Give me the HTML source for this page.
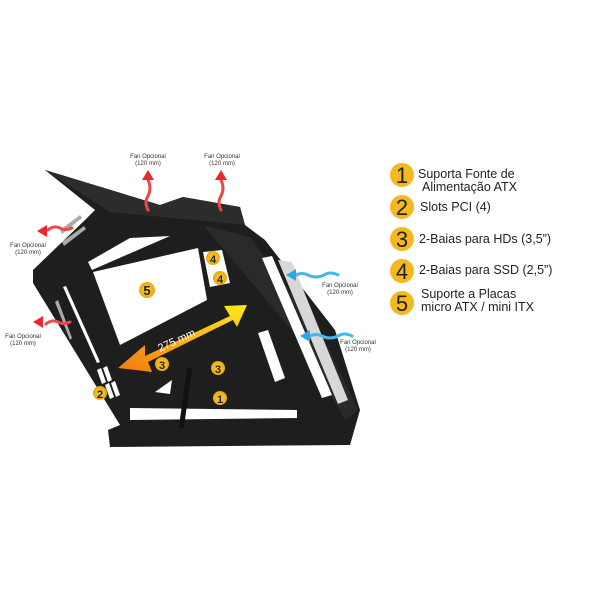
<!DOCTYPE html>
<html><head><style>
body{margin:0;background:#fff;width:600px;height:600px;overflow:hidden;font-family:"Liberation Sans",sans-serif}
</style></head><body>
<svg width="600" height="600" viewBox="0 0 600 600" xmlns="http://www.w3.org/2000/svg" font-family="Liberation Sans, sans-serif">
<defs>
<linearGradient id="ar" x1="0" y1="1" x2="1" y2="0">
<stop offset="0" stop-color="#f07a10"/><stop offset="1" stop-color="#ffe81a"/></linearGradient>
<radialGradient id="bd"><stop offset="0" stop-color="#ffd23a"/><stop offset="1" stop-color="#e8a80c"/></radialGradient>
</defs>
<!-- case body -->
<polygon points="45,170 160,205 183,197 240,207 245,225 265,240 335,330 360,410 350,445 110,447 108,430 120,425 33,283 33,270 85,220 95,210" fill="#1e1e1e"/>
<polygon points="45,170 160,205 183,197 240,207 245,225 215,222 110,212" fill="#2c2c2c"/>
<polygon points="203,225 250,237 322,335 358,410 345,420 300,340" fill="#2a2a2a"/>
<!-- windows -->
<polygon points="93,272 198,248 207,300 120,345" fill="#fff"/>
<polygon points="88,262 130,238 170,236 92,270" fill="#fff"/>
<polygon points="203,252 222,250 230,283 210,287" fill="#fff"/>
<polygon points="262,258 272,256 332,395 322,398" fill="#fff"/>
<polygon points="278,260 292,262 348,400 338,404" fill="#d8d8d8"/>
<polygon points="258,333 268,330 285,378 275,382" fill="#fff"/>
<polygon points="130,408 297,410 297,418 130,420" fill="#fff"/>
<polygon points="155,392 172,380 170,394" fill="#fff"/>
<polygon points="100,160 160,206 150,208" fill="#fff" opacity="0"/>
<g fill="#fff">
<polygon points="63,287 66,286 100,362 97,363"/>
<polygon points="97,370 101,368 106,382 102,384"/>
<polygon points="103,368 107,366 112,380 108,382"/>
<polygon points="105,385 109,383 114,397 110,399"/>
<polygon points="111,383 115,381 120,395 116,397"/>
</g>
<g fill="#aaa">
<polygon points="60,230 80,215 82,218 62,234"/><polygon points="62,242 84,226 86,229 64,246"/>
<polygon points="58,300 72,338 70,340 55,302"/>
</g>
<rect x="183" y="368" width="5" height="60" fill="#111" transform="rotate(8 185 398)"/>
<!-- dimension arrow -->
<polygon points="118,368 145,345 145,356 230,316 224,306 247,305 237,327 233,320 148,362 152,372" fill="url(#ar)"/>
<text x="160" y="352" font-size="11" fill="#fff" transform="rotate(-25 160 352)">275 mm</text>
<!-- badges -->
<g font-size="13" text-anchor="middle" fill="#222" font-weight="bold">
<circle cx="147" cy="290" r="8" fill="url(#bd)"/><text x="147" y="295">5</text>
<circle cx="213" cy="258" r="7" fill="url(#bd)"/><text x="213" y="263" font-size="11">4</text>
<circle cx="220" cy="278" r="7" fill="url(#bd)"/><text x="220" y="283" font-size="11">4</text>
<circle cx="162" cy="364" r="7" fill="url(#bd)"/><text x="162" y="369" font-size="11">3</text>
<circle cx="218" cy="368" r="7" fill="url(#bd)"/><text x="218" y="373" font-size="11">3</text>
<circle cx="100" cy="393" r="7" fill="url(#bd)"/><text x="100" y="398" font-size="11">2</text>
<circle cx="220" cy="398" r="7" fill="url(#bd)"/><text x="220" y="403" font-size="11">1</text>
</g>
<!-- fan arrows -->
<g fill="none" stroke-width="3" stroke-linecap="round">
<path d="M148,210 q-4,-8 0,-14 q4,-8 0,-16" stroke="#e84a4a"/>
<path d="M221,210 q-4,-8 0,-14 q4,-8 0,-16" stroke="#e84a4a"/>
<path d="M72,228 q-7,3 -12,0 q-6,-3 -12,2" stroke="#e84a4a"/>
<path d="M70,322 q-7,3 -12,0 q-6,-3 -12,2" stroke="#e84a4a"/>
<path d="M338,275 q-8,-4 -14,0 q-8,4 -16,0 q-6,-3 -12,0" stroke="#44b8e8"/>
<path d="M352,336 q-8,-4 -14,0 q-8,4 -16,0 q-6,-3 -12,0" stroke="#44b8e8"/>
</g>
<g>
<polygon points="148,170 142,180 154,180" fill="#e8282c"/>
<polygon points="221,170 215,180 227,180" fill="#e8282c"/>
<polygon points="37,231 47,225 47,237" fill="#e8282c"/>
<polygon points="33,322 43,316 43,328" fill="#e8282c"/>
<polygon points="286,275 296,269 296,281" fill="#2aa8e8"/>
<polygon points="300,336 310,330 310,342" fill="#2aa8e8"/>
</g>
<g font-size="6" fill="#333" text-anchor="middle">
<text x="148" y="158">Fan Opcional</text><text x="148" y="165">(120 mm)</text>
<text x="222" y="158">Fan Opcional</text><text x="222" y="165">(120 mm)</text>
<text x="28" y="247">Fan Opcional</text><text x="28" y="254">(120 mm)</text>
<text x="23" y="338">Fan Opcional</text><text x="23" y="345">(120 mm)</text>
<text x="340" y="287">Fan Opcional</text><text x="340" y="294">(120 mm)</text>
<text x="358" y="344">Fan Opcional</text><text x="358" y="351">(120 mm)</text>
</g>
<!-- legend -->
<g font-size="22" text-anchor="middle" fill="#222">
<circle cx="402" cy="175" r="12" fill="#f5b820"/><text x="402" y="183">1</text>
<circle cx="402" cy="207" r="12" fill="#f5b820"/><text x="402" y="215">2</text>
<circle cx="402" cy="239" r="12" fill="#f5b820"/><text x="402" y="247">3</text>
<circle cx="402" cy="271" r="12" fill="#f5b820"/><text x="402" y="279">4</text>
<circle cx="402" cy="303" r="12" fill="#f5b820"/><text x="402" y="311">5</text>
</g>
<g font-size="12.5" fill="#222">
<text x="418" y="178">Suporta Fonte de</text><text x="422" y="191">Alimentação ATX</text>
<text x="420" y="211">Slots PCI (4)</text>
<text x="419" y="243">2-Baias para HDs (3,5”)</text>
<text x="419" y="274">2-Baias para SSD (2,5”)</text>
<text x="421" y="298">Suporte a Placas</text><text x="421" y="311">micro ATX / mini ITX</text>
</g>
</svg>
</body></html>
